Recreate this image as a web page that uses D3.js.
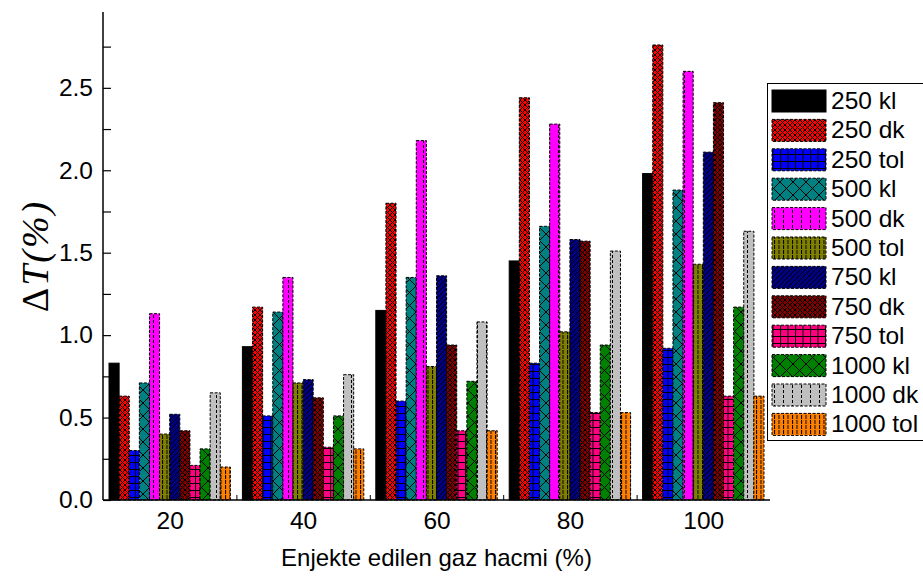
<!DOCTYPE html>
<html>
<head>
<meta charset="utf-8">
<script src="https://cdn.jsdelivr.net/npm/d3@7"></script>
<style>
  html, body { margin: 0; padding: 0; background: #fff; }
  svg { display: block; }
  text { font-family: "Liberation Sans", Arial, sans-serif; fill: #000; }
</style>
</head>
<body>
<svg id="chart" width="923" height="581"></svg>
<script>
// Injected gas volume (%) groups
const categories = [20, 40, 60, 80, 100];

// ΔT (%) per series, one value per gas-volume group
const s250kl  = [0.83, 0.93, 1.15, 1.45, 1.98];
const s250dk  = [0.63, 1.17, 1.80, 2.44, 2.76];
const s250tol = [0.30, 0.51, 0.60, 0.83, 0.92];
const s500kl  = [0.71, 1.14, 1.35, 1.66, 1.88];
const s500dk  = [1.13, 1.35, 2.18, 2.28, 2.60];
const s500tol = [0.40, 0.71, 0.81, 1.02, 1.43];
const s750kl  = [0.52, 0.73, 1.36, 1.58, 2.11];
const s750dk  = [0.42, 0.62, 0.94, 1.57, 2.41];
const s750tol = [0.21, 0.32, 0.42, 0.53, 0.63];
const s1000kl = [0.31, 0.51, 0.72, 0.94, 1.17];
const s1000dk = [0.65, 0.76, 1.08, 1.51, 1.63];
const s1000tol= [0.20, 0.31, 0.42, 0.53, 0.63];

const seriesNames = ["250 kl", "250 dk", "250 tol", "500 kl", "500 dk", "500 tol",
                     "750 kl", "750 dk", "750 tol", "1000 kl", "1000 dk", "1000 tol"];
const seriesValues = [s250kl, s250dk, s250tol, s500kl, s500dk, s500tol,
                      s750kl, s750dk, s750tol, s1000kl, s1000dk, s1000tol];

const yMajorTicks = [0, 0.5, 1.0, 1.5, 2.0, 2.5];
const yMinorTicks = [0.25, 0.75, 1.25, 1.75, 2.25, 2.75];
const xMinorTicks = [30, 50, 70, 90];

// fill colour and hatch style per series
const fills = ["#000000", "#ff0000", "#0000ff", "#008080", "#ff00ff", "#808000",
               "#000080", "#800000", "#ff0080", "#008000", "#c0c0c0", "#ff8000"];
const hatches = ["none", "fineX", "grid", "bigX", "vDash", "vDense",
                 "diag", "fineX", "grid", "bigX", "vDash", "vDense"];

const svg = d3.select("#chart");

const x = d3.scaleLinear().domain([10, 110]).range([103, 770]);
const y = d3.scaleLinear().domain([0, 2.96]).range([500, 12]);
const groupSpan = 18.2; // width of a bar cluster in x-axis units
const inner = d3.scaleBand().domain(seriesNames).range([-groupSpan / 2, groupSpan / 2]);

// hatch patterns
const defs = svg.append("defs");
function hatchPattern(id, color, kind) {
  let size = [6, 6];
  let paths = [];
  let dash = null;
  if (kind === "fineX") { size = [5, 5]; paths = ["M0,0L5,5M5,0L0,5"]; }
  if (kind === "bigX")  { size = [13, 13]; paths = ["M0,0L13,13M13,0L0,13"]; }
  if (kind === "grid")  { size = [7.5, 7]; paths = ["M0,0.5H7.5M0.5,0V7"]; }
  if (kind === "vDash") { size = [9, 5]; paths = ["M0.5,0V5"]; dash = "3,2"; }
  if (kind === "vDense"){ size = [4.5, 5]; paths = ["M0.5,0V5"]; dash = "4,1"; }
  if (kind === "diag")  { size = [5, 5]; paths = ["M0,5L5,0M-1,1L1,-1M4,6L6,4"]; }
  const p = defs.append("pattern")
    .attr("id", id)
    .attr("patternUnits", "userSpaceOnUse")
    .attr("width", size[0]).attr("height", size[1]);
  p.append("rect").attr("width", size[0]).attr("height", size[1]).attr("fill", color);
  paths.forEach(d => {
    const path = p.append("path").attr("d", d)
      .attr("stroke", "#000").attr("stroke-width", 1).attr("fill", "none");
    if (dash) path.attr("stroke-dasharray", dash);
  });
}
seriesNames.forEach((n, i) => {
  if (hatches[i] !== "none") hatchPattern("pat" + i, fills[i], hatches[i]);
});
const paint = i => hatches[i] === "none" ? fills[i] : `url(#pat${i})`;

// inward ticks, drawn beneath the bars
const yMinorAxis = d3.axisLeft(y).tickValues(yMinorTicks).tickFormat("").tickSize(-8);
svg.append("g").attr("transform", `translate(${x(10)},0)`).call(yMinorAxis)
  .call(g => g.select(".domain").remove())
  .call(g => g.selectAll("line").attr("stroke", "#000").attr("stroke-width", 1.2));

const yAxis = d3.axisLeft(y).tickValues(yMajorTicks).tickFormat(d3.format(".1f"))
  .tickSize(-8).tickPadding(10);
const gy = svg.append("g").attr("transform", `translate(${x(10)},0)`).call(yAxis);
gy.select(".domain").remove();
gy.selectAll("line").attr("stroke", "#000").attr("stroke-width", 1.2);
gy.selectAll("text").attr("font-size", 24.5).attr("font-family", "Liberation Sans, Arial, sans-serif");

const xMinorAxis = d3.axisBottom(x).tickValues(xMinorTicks).tickFormat("").tickSize(-5);
svg.append("g").attr("transform", `translate(0,${y(0)})`).call(xMinorAxis)
  .call(g => g.select(".domain").remove())
  .call(g => g.selectAll("line").attr("stroke", "#000"));

const xAxis = d3.axisBottom(x).tickValues(categories).tickSize(-8).tickPadding(12);
const gx = svg.append("g").attr("transform", `translate(0,${y(0)})`).call(xAxis);
gx.select(".domain").remove();
gx.selectAll("line").attr("stroke", "#000").attr("stroke-width", 1.2);
gx.selectAll("text").attr("font-size", 24.5).attr("font-family", "Liberation Sans, Arial, sans-serif");

// bars
const bars = [];
categories.forEach((c, gi) => {
  seriesNames.forEach((n, si) => bars.push({ c, n, si, v: seriesValues[si][gi] }));
});
svg.append("g").selectAll("rect").data(bars).join("rect")
  .attr("x", d => x(d.c + inner(d.n)))
  .attr("width", d => x(d.c + inner(d.n) + inner.bandwidth()) - x(d.c + inner(d.n)))
  .attr("y", d => y(d.v))
  .attr("height", d => y(0) - y(d.v))
  .attr("fill", d => paint(d.si))
  .attr("stroke", "#000")
  .attr("stroke-width", 1)
  .attr("stroke-dasharray", d => d.si === 0 ? null : "3,1.5");

// axis lines on top
svg.append("line").attr("x1", x(10)).attr("x2", x(10)).attr("y1", y(0)).attr("y2", y(2.96))
  .attr("stroke", "#000").attr("stroke-width", 1.5);
svg.append("line").attr("x1", x(10)).attr("x2", x(110)).attr("y1", y(0)).attr("y2", y(0))
  .attr("stroke", "#000").attr("stroke-width", 1.5);

// axis titles
svg.append("text")
  .attr("x", (x(10) + x(110)) / 2).attr("y", 566)
  .attr("text-anchor", "middle").attr("font-size", 24)
  .text("Enjekte edilen gaz hacmi (%)");

const yt = svg.append("text")
  .attr("transform", `translate(48,${(y(0) + y(2.96)) / 2}) rotate(-90)`)
  .attr("text-anchor", "middle")
  .attr("font-size", 38)
  .attr("letter-spacing", 2)
  .style("font-family", "'Liberation Serif', 'Times New Roman', serif");
yt.append("tspan").text("Δ");
yt.append("tspan").attr("font-style", "italic").text("T(%)");

// legend
const legend = svg.append("g");
legend.append("rect")
  .attr("x", 767.5).attr("y", 83.5).attr("width", 200).attr("height", 357)
  .attr("fill", "#fff").attr("stroke", "#000").attr("stroke-width", 1);
const rowPitch = 29.4;
seriesNames.forEach((n, i) => {
  legend.append("rect")
    .attr("x", 772).attr("y", 90 + i * rowPitch)
    .attr("width", 54).attr("height", 22)
    .attr("fill", paint(i))
    .attr("stroke", "#000").attr("stroke-width", 1)
    .attr("stroke-dasharray", i === 0 ? null : "3,1.5");
  legend.append("text")
    .attr("x", 831).attr("y", 109 + i * rowPitch)
    .attr("font-size", 24.5)
    .text(n);
});
</script>
</body>
</html>
